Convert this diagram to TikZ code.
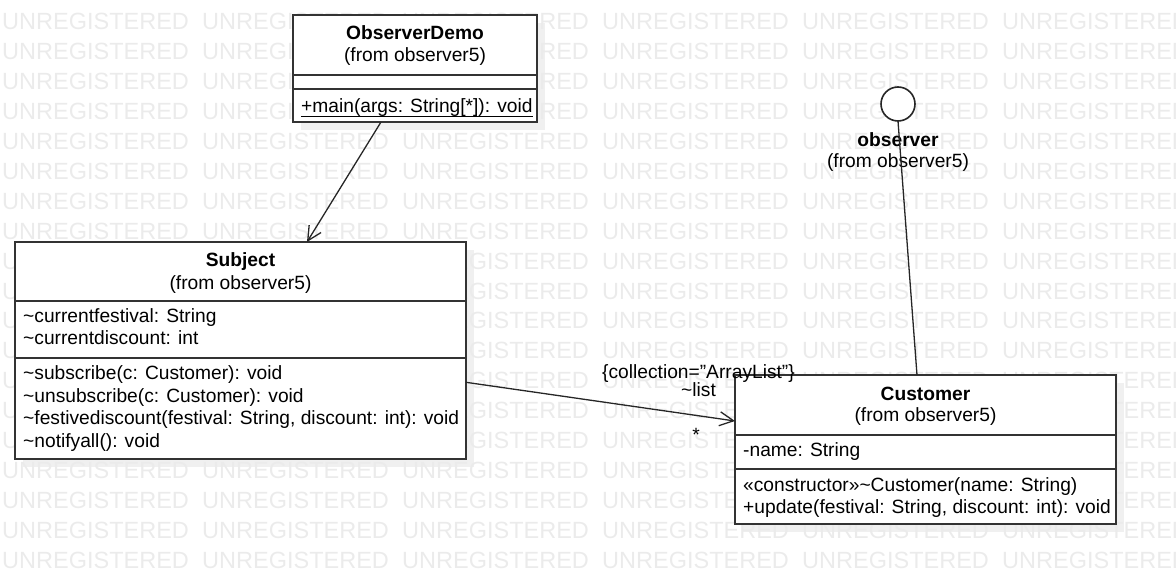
\documentclass[tikz,border=0pt]{standalone}
\usepackage{fontspec}
\setmainfont{Liberation Sans}
\usetikzlibrary{arrows.meta}
\tikzset{
  umlbox/.style={draw=black!80, line width=2pt, fill=white, outer sep=0pt, anchor=north west},
  umlline/.style={draw=black!80, line width=2pt},
  shadowbox/.style={fill=black!6},
  txt/.style={inner sep=0pt, font=\fontsize{19.2}{22}\selectfont},
  member/.style={txt, anchor=base west},
  classname/.style={txt, anchor=base, font=\fontsize{19.2}{22}\selectfont\bfseries},
  link/.style={line width=1.3pt, draw=black!85, -{Straight Barb[length=14pt,width=14pt,line width=1.3pt]}},
  watermark/.style={inner sep=0pt, anchor=base west, text=black!8, font=\fontsize{23.5}{24}\selectfont},
}
\begin{document}
\begin{tikzpicture}[x=1pt, y=-1pt]
  \useasboundingbox (0,0) rectangle (1176,585);
  % shadows
  \fill[shadowbox] (301,23) rectangle (545,130);
  \fill[shadowbox] (23,250) rectangle (474,467);
  \fill[shadowbox] (743,383) rectangle (1124,532);
  % watermark
  \begin{scope}
    \clip (0,0) rectangle (1176,585);
    \foreach \r in {0,...,18}
      \foreach \c in {0,...,5}
        \node[watermark] (wm-\r-\c) at (2+200*\c, 30+29.9*\r) {UNREGISTERED};
  \end{scope}

  % ObserverDemo
  \node[umlbox, minimum width=244, minimum height=107] (demo) at (293,15) {};
  \draw[umlline] (demo.west |- 0,75) -- (demo.east |- 0,75);
  \draw[umlline] (demo.west |- 0,89) -- (demo.east |- 0,89);
  \node[classname] (demoname) at (demo.north |- 0,40) {ObserverDemo};
  \node[txt, anchor=base] (demofrom) at (demo.north |- 0,61.5) {(from observer5)};
  \node[member] (demomain) at (301,112.5) {+main(args: String[*]): void};
  \draw[line width=1.3pt] ([yshift=-4pt]demomain.base west) -- ([yshift=-4pt]demomain.base east);

  % Subject
  \node[umlbox, minimum width=451, minimum height=217] (subj) at (15,242) {};
  \draw[umlline] (subj.west |- 0,301) -- (subj.east |- 0,301);
  \draw[umlline] (subj.west |- 0,358) -- (subj.east |- 0,358);
  \node[classname] (subjname) at (subj.north |- 0,266.5) {Subject};
  \node[txt, anchor=base] (subjfrom) at (subj.north |- 0,289.5) {(from observer5)};
  \foreach \t [count=\i from 0] in {currentfestival: String, currentdiscount: int}
    \node[member] (subjattr\i) at (23,323+22*\i) {\textasciitilde\t};
  \foreach \t [count=\i from 0] in {subscribe(c: Customer): void, unsubscribe(c: Customer): void,
      {festivediscount(festival: String, discount: int): void}, notifyall(): void}
    \node[member] (subjop\i) at (23,380+22.4*\i) {\textasciitilde\t};

  % Customer
  \node[umlbox, minimum width=381, minimum height=149] (cust) at (735,375) {};
  \draw[umlline] (cust.west |- 0,435) -- (cust.east |- 0,435);
  \draw[umlline] (cust.west |- 0,469) -- (cust.east |- 0,469);
  \node[classname] (custname) at (cust.north |- 0,400) {Customer};
  \node[txt, anchor=base] (custfrom) at (cust.north |- 0,421.5) {(from observer5)};
  \node[member] (custattr) at (743,456.5) {-name: String};
  \node[member] (custop0) at (743,491.5) {«constructor»\textasciitilde Customer(name: String)};
  \node[member] (custop1) at (743,513.5) {+update(festival: String, discount: int): void};

  % observer interface
  \node[circle, draw=black!85, line width=1.6pt, fill=white, minimum size=34, inner sep=0pt, outer sep=0pt] (obsif) at (898,104) {};
  \node[classname] (obsname) at (898,147) {observer};
  \node[txt, anchor=base] (obsfrom) at (898,168) {(from observer5)};
  \draw[line width=1.3pt, black!85] (obsif.south) -- ([xshift=-8.5pt]cust.north);

  % associations
  \draw[link] ([xshift=-34pt]demo.south) -- ([xshift=66.5pt]subj.north);
  \draw[link] ([yshift=-31.8pt]subj.east) -- ([yshift=28.5pt]cust.west);
  \node[txt, anchor=base] (collabel) at (698.5,378) {\{collection="ArrayList"\}};
  \node[txt, anchor=base] (rolelabel) at (698.5,397) {\textasciitilde list};
  \node[txt, anchor=base] (multlabel) at (696,441) {*};
\end{tikzpicture}
\end{document}
